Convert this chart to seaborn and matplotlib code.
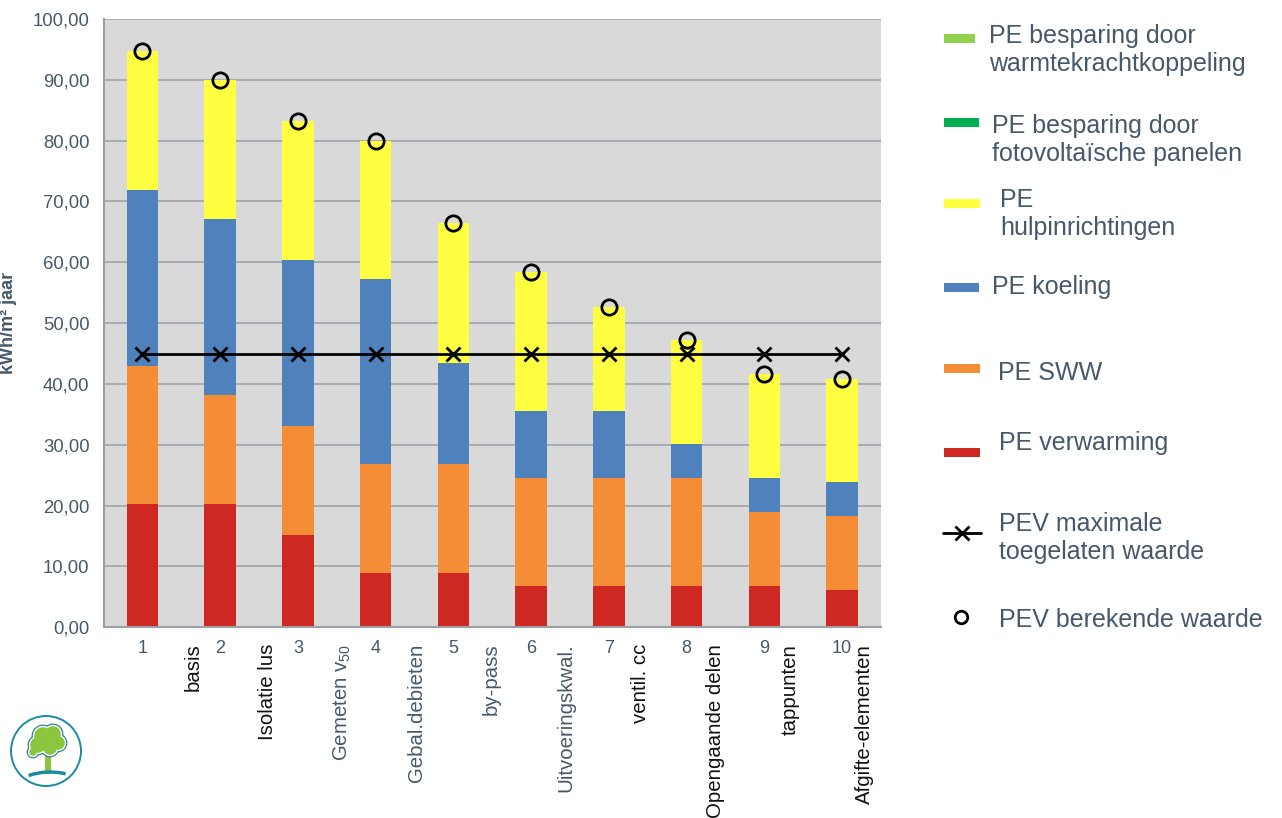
import numpy as np
import pandas as pd
import matplotlib
matplotlib.use("Agg")
import matplotlib.pyplot as plt
from matplotlib.patches import Rectangle, Circle, Arc
from matplotlib.lines import Line2D
from matplotlib.ticker import FuncFormatter, FixedLocator
import seaborn as sns

# ---- data -------------------------------------------------------------
categories = ["1", "2", "3", "4", "5", "6", "7", "8", "9", "10"]
scenario_labels = ["basis", "Isolatie lus", "Gemeten v$_\\mathrm{50}$", "Gebal.debieten",
                   "by-pass", "Uitvoeringskwal.", "ventil. cc", "Opengaande delen",
                   "tappunten", "Afgifte-elementen"]
scenario_dark = [True, True, False, False, False, False, True, True, True, True]

pe_verwarming = [20.2, 20.2, 15.2, 8.95, 8.95, 6.8, 6.8, 6.8, 6.8, 6.1]
pe_sww = [22.8, 18.0, 17.85, 17.85, 17.85, 17.8, 17.8, 17.8, 12.15, 12.2]
pe_koeling = [28.85, 28.9, 27.35, 30.4, 16.7, 11.0, 11.0, 5.6, 5.55, 5.6]
pe_hulp = [22.9, 22.8, 22.9, 22.8, 22.9, 22.8, 17.0, 17.0, 17.1, 17.0]
pev_max = [45, 45, 45, 45, 45, 45, 45, 45, 45, 45]
pev_berekend = [94.75, 89.9, 83.3, 80.0, 66.4, 58.4, 52.6, 47.2, 41.6, 40.9]

legend_labels = ["PE besparing door\nwarmtekrachtkoppeling",
                 "PE besparing door\nfotovoltaïsche panelen",
                 "PE\nhulpinrichtingen",
                 "PE koeling",
                 "PE SWW",
                 "PE verwarming",
                 "PEV maximale\ntoegelaten waarde",
                 "PEV berekende waarde"]

# ---- style ------------------------------------------------------------
sns.set_style("white")
plt.rcParams["font.family"] = ["Liberation Sans", "DejaVu Sans"]
plt.rcParams["mathtext.fontset"] = "custom"
plt.rcParams["mathtext.rm"] = "Liberation Sans"
plt.rcParams["mathtext.it"] = "Liberation Sans:italic"

C_RED = "#cf2822"
C_ORANGE = "#f58c36"
C_BLUE = "#4f81bd"
C_YELLOW = "#ffff42"
C_LGREEN = "#92d050"
C_DGREEN = "#00b050"
SLATE = "#46596a"
GRID = "#a3a9ae"
BG = "#d9d9d9"

fig = plt.figure(figsize=(12.82, 8.18), dpi=100)
W, H = 1282, 818
ax = fig.add_axes([103.5 / W, 1 - 627.3 / H, 777.5 / W, 608.3 / H])
ax.set_facecolor(BG)

df = pd.DataFrame({"cat": categories,
                   "verwarming": pe_verwarming, "sww": pe_sww,
                   "koeling": pe_koeling, "hulp": pe_hulp})
df["top_red"] = df["verwarming"]
df["top_orange"] = df["top_red"] + df["sww"]
df["top_blue"] = df["top_orange"] + df["koeling"]
df["top_yellow"] = df["top_blue"] + df["hulp"]

# stacked bars drawn as overlapping cumulative layers
for col, colr in [("top_yellow", C_YELLOW), ("top_blue", C_BLUE),
                  ("top_orange", C_ORANGE), ("top_red", C_RED)]:
    sns.barplot(data=df, x="cat", y=col, order=categories, color=colr,
                saturation=1, width=0.405, ax=ax, zorder=2, linewidth=0)

xs = np.arange(len(categories))
sns.lineplot(x=xs, y=pev_max, ax=ax, color="black", linewidth=2,
             marker="x", markersize=10, markeredgewidth=2,
             markeredgecolor="black", zorder=4)
sns.lineplot(x=xs, y=pev_berekend, ax=ax, linestyle="", marker="o",
             markersize=11, markerfacecolor="none", markeredgecolor="black",
             markeredgewidth=2, zorder=5)

# ---- axes -------------------------------------------------------------
ax.set_xlim(-0.5, 9.5)
ax.set_ylim(0, 100)
ax.set_yticks(np.arange(0, 101, 10))
ax.yaxis.set_major_formatter(FuncFormatter(lambda v, p: f"{v:.2f}".replace(".", ",")))
ax.grid(axis="y", color=GRID, linewidth=1.3, zorder=0)
ax.grid(axis="x", visible=False)
ax.set_axisbelow(True)

ax.xaxis.set_major_locator(FixedLocator(np.arange(-0.5, 10, 1)))
ax.xaxis.set_minor_locator(FixedLocator(xs))
ax.set_xticklabels([""] * 11)
ax.set_xticklabels(categories, minor=True)
ax.tick_params(axis="x", which="major", length=5, width=1.2, color="#9aa0a6",
               direction="out")
ax.tick_params(axis="x", which="minor", length=0, pad=9, labelsize=13,
               labelcolor=SLATE)
ax.tick_params(axis="y", length=5, width=1.2, color="#9aa0a6", direction="out",
               labelsize=13.3, labelcolor=SLATE, pad=5)

for s in ["top", "right"]:
    ax.spines[s].set_visible(False)
for s in ["left", "bottom"]:
    ax.spines[s].set_color("#9aa0a6")
    ax.spines[s].set_linewidth(1.5)

ax.set_xlabel("")
ax.set_ylabel("kWh/m² jaar", fontsize=13, fontweight="bold", color=SLATE)
ax.yaxis.set_label_coords(-0.1115, 0.50)

# rotated scenario labels between the bars
trans = matplotlib.transforms.blended_transform_factory(ax.transData, ax.transAxes)
for j, (lab, dark) in enumerate(zip(scenario_labels, scenario_dark)):
    ax.text(0.65 + 0.96 * j, -0.027, lab, rotation=90, ha="center", va="top",
            fontsize=14.7, color="#111111" if dark else SLATE, transform=trans)

# ---- legend (pixel coordinates) ----------------------------------------
lax = fig.add_axes([0, 0, 1, 1], zorder=10)
lax.set_xlim(0, W)
lax.set_ylim(H, 0)
lax.axis("off")
lax.patch.set_alpha(0)

patch_entries = [
    (C_LGREEN, 38, 944, 975, 989, 50),
    (C_DGREEN, 122, 944, 979, 992, 140),
    (C_YELLOW, 203, 944, 980, 1000, 214),
    (C_BLUE, 287, 944, 979, 992, 287),
    (C_ORANGE, 368, 944, 980, 998, 373),
    (C_RED, 452, 944, 980, 999, 443),
]
for i, (colr, py, x0, x1, tx, ty) in enumerate(patch_entries):
    lax.add_patch(Rectangle((x0, py - 4.5), x1 - x0, 9, facecolor=colr,
                            edgecolor="none"))
    lax.text(tx, ty, legend_labels[i], fontsize=18, color=SLATE,
             ha="left", va="center", linespacing=1.25)

lax.add_line(Line2D([943, 981], [533, 533], color="black", linewidth=2))
lax.plot([962], [533], marker="x", markersize=10, markeredgewidth=2,
         color="black")
lax.text(999, 538, legend_labels[6], fontsize=18, color=SLATE,
         ha="left", va="center", linespacing=1.25)
lax.plot([961], [617], marker="o", markersize=9, markerfacecolor="none",
         markeredgecolor="black", markeredgewidth=2)
lax.text(999, 620, legend_labels[7], fontsize=18, color=SLATE,
         ha="left", va="center")

# ---- logo --------------------------------------------------------------
TEAL = "#1c8aa3"
TREE = "#8cc63f"
lax.add_patch(Circle((46, 751), 35, facecolor="white", edgecolor=TEAL,
                     linewidth=1.4))
lax.add_patch(Rectangle((45, 748), 6, 26, facecolor=TREE, edgecolor="none"))
crown = [(38, 745, 9), (43, 736, 10), (53, 734, 9), (58, 743, 8),
         (50, 748, 8), (33, 752, 5)]
for (cx, cy, r) in crown:
    lax.add_patch(Circle((cx, cy), r + 1.4, facecolor="#2a7e96", edgecolor="none"))
for (cx, cy, r) in crown:
    lax.add_patch(Circle((cx, cy), r + 0.2, facecolor="white", edgecolor="none"))
for (cx, cy, r) in crown:
    lax.add_patch(Circle((cx, cy), r - 1.2, facecolor=TREE, edgecolor="none"))
lax.add_patch(Arc((50, 802), 90, 60, theta1=231, theta2=299, color=TEAL,
                  linewidth=2.5))

fig.savefig("out.png", dpi=100, facecolor="white")
